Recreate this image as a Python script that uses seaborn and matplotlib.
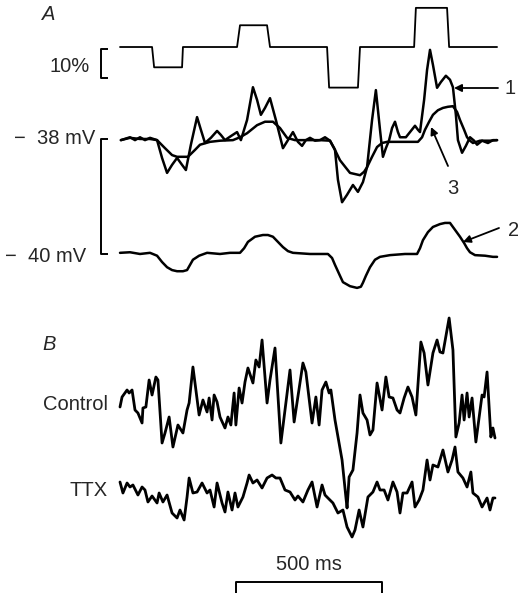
import numpy as np
import pandas as pd
import matplotlib.pyplot as plt
import seaborn as sns

# stimulus contrast steps (% change)
stim_t = [0, 109, 116, 211, 214, 398, 408, 500, 510, 704, 711, 809, 816, 1000, 1006, 1112, 1119, 1282]
stim_pct = [0, 0, -7, -7, 0, 0, 7.5, 7.5, 0, 0, -14, -14, 0, 0, 13.5, 13.5, 0, 0]

# panel A, trace 1 (mV)
trace1_t = [3, 34, 51, 68, 85, 102, 126, 143, 160, 177, 194, 211, 224, 241, 262, 275, 289, 309,
            330, 343, 357, 377, 398, 411, 432, 452, 466, 479, 493, 510, 530, 554, 571, 588, 605,
            619, 632, 646, 663, 680, 697, 714, 731, 741, 755, 772, 792, 809, 826, 840, 857, 870,
            884, 894, 904, 915, 925, 935, 945, 952, 972, 986, 1003, 1013, 1020, 1034, 1044, 1054,
            1064, 1078, 1091, 1108, 1122, 1132, 1142, 1149, 1163, 1176, 1190, 1204, 1214, 1231,
            1251, 1268, 1282]
trace1_mv = [-38.02, -37.97, -38.02, -37.97, -38.02, -37.98, -38.02, -38.33, -38.59, -38.45,
             -38.33, -38.45, -38.54, -38.10, -37.62, -37.84, -38.07, -37.98, -37.86, -37.93,
             -38.02, -37.95, -37.88, -38.02, -37.67, -37.10, -37.32, -37.58, -37.46, -37.29,
             -37.67, -38.16, -38.02, -37.88, -38.05, -38.12, -38.02, -37.98, -38.03, -38.02,
             -37.97, -38.03, -38.19, -38.71, -39.10, -38.97, -38.80, -38.92, -38.75, -38.49,
             -37.67, -37.15, -37.84, -38.31, -38.16, -38.02, -37.81, -37.70, -37.88, -37.97,
             -37.97, -37.88, -37.77, -37.84, -37.88, -37.32, -36.80, -36.45, -36.71, -37.11,
             -37.01, -36.90, -36.97, -37.10, -37.58, -38.02, -38.24, -38.12, -37.97, -38.03,
             -38.10, -38.03, -38.07, -38.02, -38.02]

# panel A, trace 3 (mV)
trace3_t = [3, 34, 68, 102, 126, 153, 177, 194, 231, 255, 272, 306, 340, 384, 408, 432, 466, 493,
            520, 544, 568, 595, 646, 680, 714, 728, 748, 768, 782, 799, 816, 830, 840, 857, 874,
            891, 908, 952, 986, 1013, 1027, 1037, 1051, 1064, 1081, 1098, 1115, 1132, 1146, 1156,
            1170, 1180, 1190, 1200, 1224, 1258, 1282]
trace3_mv = [-38.02, -37.98, -38.00, -38.00, -38.02, -38.16, -38.28, -38.31, -38.31, -38.19,
             -38.10, -38.05, -38.03, -38.02, -37.97, -37.90, -37.76, -37.70, -37.70, -37.81,
             -37.98, -38.02, -38.02, -38.02, -38.03, -38.16, -38.37, -38.50, -38.59, -38.61,
             -38.63, -38.57, -38.49, -38.31, -38.14, -38.07, -38.05, -38.05, -38.05, -38.05,
             -37.97, -37.84, -37.70, -37.58, -37.50, -37.46, -37.44, -37.43, -37.53, -37.67,
             -37.84, -37.97, -38.03, -38.07, -38.03, -38.03, -38.02]

# panel A, trace 2 (mV)
trace2_t = [0, 34, 68, 102, 126, 143, 160, 177, 194, 214, 228, 238, 248, 269, 296, 340, 374, 408,
            422, 435, 459, 486, 503, 520, 537, 554, 571, 588, 646, 707, 721, 731, 748, 758, 782,
            806, 819, 826, 836, 850, 867, 884, 918, 969, 1010, 1020, 1030, 1047, 1064, 1088, 1105,
            1122, 1139, 1156, 1170, 1180, 1190, 1207, 1241, 1268, 1282]
trace2_mv = [-39.98, -39.97, -40.00, -39.98, -40.03, -40.14, -40.23, -40.28, -40.30, -40.30,
             -40.28, -40.19, -40.10, -40.03, -39.98, -40.00, -39.98, -39.98, -39.90, -39.79,
             -39.70, -39.67, -39.67, -39.70, -39.79, -39.88, -39.95, -39.98, -40.00, -40.00,
             -40.07, -40.19, -40.38, -40.49, -40.56, -40.59, -40.57, -40.50, -40.38, -40.23,
             -40.10, -40.05, -40.02, -40.00, -40.00, -39.90, -39.76, -39.62, -39.53, -39.48,
             -39.46, -39.46, -39.58, -39.70, -39.81, -39.90, -39.97, -40.02, -40.03, -40.05,
             -40.05]

# panel B, control (mV, relative)
control_t = [0, 7, 24, 31, 41, 51, 61, 75, 78, 88, 99, 109, 122, 129, 143, 153, 167, 180, 197,
             214, 228, 235, 248, 255, 269, 282, 296, 303, 313, 320, 330, 340, 357, 367, 377, 388,
             394, 405, 415, 425, 435, 452, 462, 473, 483, 500, 510, 527, 547, 578, 592, 622, 632,
             653, 666, 677, 687, 700, 711, 717, 731, 755, 768, 772, 779, 792, 806, 816, 826, 840,
             850, 860, 874, 891, 904, 915, 928, 942, 952, 966, 979, 993, 1006, 1023, 1034, 1047,
             1064, 1078, 1088, 1098, 1119, 1132, 1142, 1153, 1163, 1170, 1180, 1187, 1197, 1210,
             1231, 1238, 1248, 1261, 1268, 1275]
control_mv = [-0.14, 0.06, 0.20, 0.14, 0.20, -0.20, -0.26, -0.46, -0.16, -0.14, 0.40, 0.10,
              0.46, 0.40, -0.86, -0.66, -0.34, -0.94, -0.50, -0.66, -0.20, -0.06, 0.66, 0.34,
              -0.30, 0.00, -0.24, 0.04, -0.40, 0.10, -0.04, -0.34, -0.56, -0.34, -0.50, 0.14,
              -0.50, 0.24, -0.06, 0.36, 0.64, 0.34, 0.80, 0.66, 1.20, -0.06, 0.40, 1.04, -0.86,
              0.60, -0.44, 0.74, 0.56, -0.46, 0.06, -0.50, 0.20, 0.36, 0.14, 0.20, -0.40, -1.20,
              -1.94, -2.16, -1.54, -1.40, -0.66, 0.10, -0.26, -0.40, -0.70, -0.60, 0.34, -0.20,
              0.46, 0.06, 0.04, -0.20, -0.26, 0.04, 0.26, 0.06, -0.30, 1.16, 0.94, 0.30, 0.94,
              1.20, 0.96, 0.94, 1.64, 1.00, -0.74, -0.46, 0.10, -0.40, 0.14, -0.34, 0.04, -0.84,
              0.10, 0.06, 0.56, -0.74, -0.56, -0.76]

# panel B, TTX (mV, relative)
ttx_t = [0, 10, 24, 34, 44, 61, 75, 85, 95, 109, 126, 133, 146, 160, 177, 194, 204, 218, 228,
         235, 248, 262, 279, 296, 306, 320, 330, 347, 357, 367, 381, 391, 401, 418, 432, 439, 452,
         466, 483, 500, 517, 530, 544, 561, 578, 595, 605, 622, 639, 653, 670, 687, 697, 707, 724,
         741, 758, 772, 789, 799, 813, 826, 843, 860, 874, 884, 898, 911, 928, 942, 952, 962, 976,
         993, 1003, 1017, 1030, 1044, 1054, 1064, 1081, 1098, 1115, 1129, 1139, 1149, 1166, 1180,
         1193, 1200, 1217, 1231, 1248, 1258, 1268, 1275]
ttx_mv = [0.16, -0.06, 0.14, 0.06, 0.10, -0.10, 0.06, 0.00, -0.24, -0.12, -0.26, -0.06, -0.24,
          -0.10, -0.46, -0.56, -0.40, -0.60, -0.14, 0.24, -0.06, -0.04, 0.14, -0.06, 0.00, -0.34,
          0.14, -0.26, -0.44, -0.04, -0.40, -0.06, -0.34, -0.14, 0.14, 0.30, 0.14, 0.20, 0.04,
          0.24, 0.30, 0.24, 0.24, 0.00, -0.04, -0.20, -0.12, -0.24, 0.00, 0.16, -0.34, 0.10,
          -0.10, -0.16, -0.26, -0.46, -0.40, -0.74, -0.94, -0.80, -0.40, -0.74, -0.14, -0.04,
          0.16, 0.00, 0.00, -0.20, 0.16, -0.04, -0.46, -0.06, -0.06, 0.16, -0.34, -0.20, 0.00,
          0.60, 0.20, 0.50, 0.46, 0.80, 0.36, 0.60, 0.86, 0.36, 0.24, 0.06, 0.36, -0.06, -0.14,
          -0.34, -0.16, -0.40, -0.16, -0.16]
ttx_offset = -1.8

W, H = 518, 593
T_LIM = (-408, 1353.2)

sns.set_style("white")
plt.rcParams["font.family"] = ["Liberation Sans", "DejaVu Sans"]

fig = plt.figure(figsize=(W / 100, H / 100), dpi=100)


def layer(ylim):
    ax = fig.add_axes([0, 0, 1, 1])
    ax.set_xlim(T_LIM)
    ax.set_ylim(ylim)
    ax.axis("off")
    ax.patch.set_alpha(0)
    return ax


def trace(ax, t, v, lw):
    sns.lineplot(x=t, y=v, ax=ax, color="black", lw=lw,
                 estimator=None, sort=False, legend=False)


ax_stim = layer((-188.28, 16.21))
trace(ax_stim, stim_t, stim_pct, 1.3)

ax_a = layer((-45.896, -35.583))
trace(ax_a, trace1_t, trace1_mv, 1.8)
trace(ax_a, trace3_t, trace3_mv, 1.8)
trace(ax_a, trace2_t, trace2_mv, 1.8)

ax_b = layer((-3.86, 8.0))
trace(ax_b, control_t, control_mv, 2.0)
trace(ax_b, ttx_t, np.array(ttx_mv) + ttx_offset, 2.0)

# overlay in pixel units for labels, brackets, arrows
ov = fig.add_axes([0, 0, 1, 1])
ov.set_xlim(0, W)
ov.set_ylim(H, 0)
ov.axis("off")
ov.patch.set_alpha(0)

fs = 14.5
ov.text(42, 14, "A", fontsize=fs, style="italic", va="center", ha="left")
ov.text(42, 345, "B", fontsize=fs, style="italic", va="center", ha="left")
ov.text(90, 66, "10%", fontsize=fs, va="center", ha="right")
ov.text(95, 139, "\u2212  38 mV", fontsize=fs, va="center", ha="right")
ov.text(86, 256, "\u2212  40 mV", fontsize=fs, va="center", ha="right")
ov.text(108, 405, "Control", fontsize=fs, va="center", ha="right")
ov.text(108, 490, "TTX", fontsize=fs, va="center", ha="right")
ov.text(309, 565, "500 ms", fontsize=fs, va="center", ha="center")

kw = dict(color="black", lw=1.4, solid_capstyle="butt")
ov.plot([108, 101, 101, 108], [49, 49, 78, 78], **kw)
ov.plot([108, 101, 101, 108], [139, 139, 254, 254], **kw)
ov.plot([236, 236, 382, 382], [593, 582, 582, 593], **kw)

ap = dict(arrowstyle="-|>", color="black", lw=1.3, mutation_scale=11, shrinkA=0, shrinkB=0)
ov.annotate("", xy=(454, 88), xytext=(498, 88), arrowprops=ap)
ov.text(505, 88, "1", fontsize=fs, va="center", ha="left")
ov.annotate("", xy=(431, 127), xytext=(448, 166), arrowprops=ap)
ov.text(453, 188, "3", fontsize=fs, va="center", ha="center")
ov.annotate("", xy=(463, 242), xytext=(499, 228), arrowprops=ap)
ov.text(508, 230, "2", fontsize=fs, va="center", ha="left")

fig.savefig("out.png", dpi=100)
